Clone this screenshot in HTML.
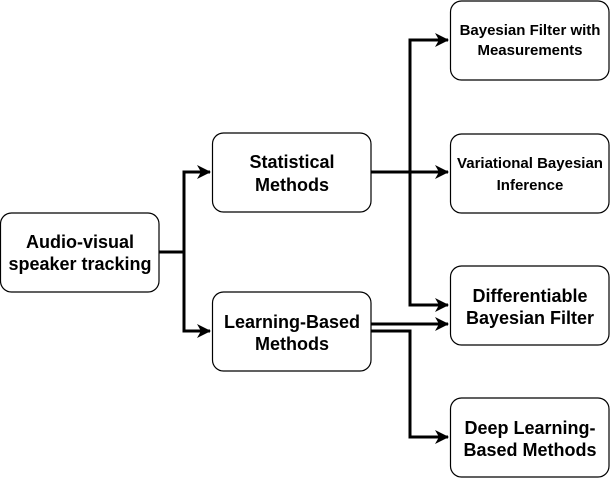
<!DOCTYPE html>
<html><head><style>body{margin:0;background:#fff}</style></head><body>
<svg width="612" height="480" xmlns="http://www.w3.org/2000/svg" font-family="Liberation Sans, sans-serif" font-weight="bold" text-anchor="middle">
<defs><marker id="a" markerWidth="14" markerHeight="14" refX="13" refY="7" orient="auto" markerUnits="userSpaceOnUse"><path d="M0,0 L14,7 L0,14 L4,7 Z" fill="#000"/></marker></defs>
<g fill="#fff" stroke="#000" stroke-width="1.2">
<rect x="0.5" y="213" width="158.5" height="79" rx="11"/>
<rect x="212.5" y="133" width="158.5" height="79" rx="11"/>
<rect x="212.5" y="292" width="158.5" height="79" rx="11"/>
<rect x="450.5" y="1" width="158.5" height="79" rx="11"/>
<rect x="450.5" y="134" width="158.5" height="79" rx="11"/>
<rect x="450.5" y="266" width="158.5" height="79" rx="11"/>
<rect x="450.5" y="398" width="158.5" height="79" rx="11"/>
</g>
<g fill="none" stroke="#000" stroke-width="3" marker-end="url(#a)">
<path d="M159,252 H184 V172 H210"/>
<path d="M184,252 V331 H210"/>
<path d="M371,172 H410 V40 H448"/>
<path d="M371,172 H448"/>
<path d="M410,172 V305 H448"/>
<path d="M371,324 H448"/>
<path d="M371,331 H410 V437 H448"/>
</g>
<g font-size="18" fill="#000">
<text x="80" y="248">Audio-visual</text><text x="80" y="270">speaker tracking</text>
<text x="292" y="168">Statistical</text><text x="292" y="191">Methods</text>
<text x="292" y="328">Learning-Based</text><text x="292" y="350">Methods</text>
<text x="530" y="302">Differentiable</text><text x="530" y="324">Bayesian Filter</text>
<text x="530" y="434">Deep Learning-</text><text x="530" y="456">Based Methods</text>
</g>
<g font-size="15" fill="#000">
<text x="530" y="35">Bayesian Filter with</text><text x="530" y="55">Measurements</text>
<text x="530" y="168">Variational Bayesian</text><text x="530" y="190">Inference</text>
</g>
</svg>
</body></html>
